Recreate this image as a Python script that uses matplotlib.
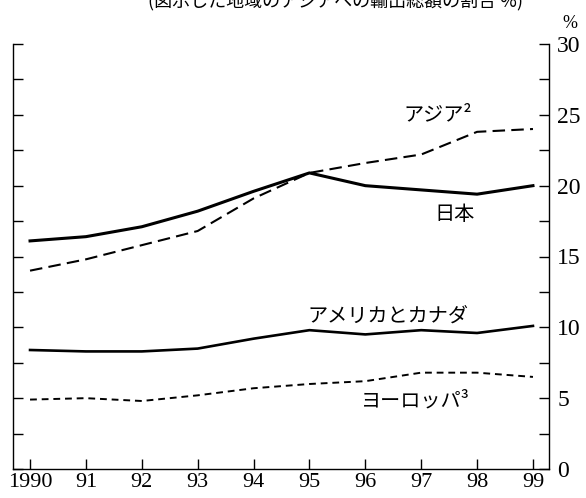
import matplotlib
matplotlib.use("Agg")
import matplotlib.pyplot as plt
from matplotlib.ticker import MultipleLocator

years = [1990, 1991, 1992, 1993, 1994, 1995, 1996, 1997, 1998, 1999]
year_labels = ["1990", "91", "92", "93", "94", "95", "96", "97", "98", "99"]
japan = [16.1, 16.4, 17.1, 18.2, 19.6, 20.9, 20.0, 19.7, 19.4, 20.0]
asia = [14.0, 14.8, 15.8, 16.8, 19.1, 20.9, 21.6, 22.2, 23.8, 24.0]
us_canada = [8.4, 8.3, 8.3, 8.5, 9.2, 9.8, 9.5, 9.8, 9.6, 10.1]
europe = [4.9, 5.0, 4.8, 5.2, 5.7, 6.0, 6.2, 6.8, 6.8, 6.5]

JP = ["Noto Sans CJK JP", "DejaVu Sans"]
NUM = ["Liberation Serif", "DejaVu Serif"]

fig = plt.figure(figsize=(5.86, 4.98), dpi=100)
W, H = 586, 498
left, right, bottom, top = 13, 549, 29, 454
ax = fig.add_axes([left / W, bottom / H, (right - left) / W, (top - bottom) / H])

ax.plot(years, japan, color="black", lw=2.2, solid_joinstyle="round")
ax.plot(years, asia, color="black", lw=1.5, linestyle=(0, (6, 3)))
ax.plot(years, us_canada, color="black", lw=1.9, solid_joinstyle="round")
ax.plot(years, europe, color="black", lw=1.4, linestyle=(0, (3.5, 2.5)))

ax.set_xlim(1989.695, 1999.287)
ax.set_ylim(0, 30)
ax.spines["top"].set_visible(False)
for s in ["left", "right", "bottom"]:
    ax.spines[s].set_linewidth(1.0)

ax.set_xticks(years)
ax.set_xticklabels(year_labels, fontfamily=NUM, fontsize=16)
ax.tick_params(axis="x", direction="in", length=7, width=1.0, pad=3)

ax.yaxis.set_major_locator(MultipleLocator(5))
ax.yaxis.set_minor_locator(MultipleLocator(2.5))
ax.tick_params(axis="y", which="both", direction="in", length=7, width=1.0,
               left=True, right=True, labelleft=False, labelright=True, pad=6)
for lab in ax.get_yticklabels():
    lab.set_fontfamily(NUM)
    lab.set_fontsize(17)

ax.text(1997.3, 25.0, "アジア²", fontfamily=JP, fontsize=14.5, ha="center", va="center")
ax.text(1997.6, 18.0, "日本", fontfamily=JP, fontsize=14.5, ha="center", va="center")
ax.text(1996.4, 10.8, "アメリカとカナダ", fontfamily=JP, fontsize=14.5, ha="center", va="center")
ax.text(1996.9, 4.8, "ヨーロッパ³", fontfamily=JP, fontsize=14.5, ha="center", va="center")

fig.text(570 / W, 1 - 24 / H, "%", fontfamily=NUM, fontsize=13, ha="center", va="center")
fig.text(336 / W, 1 - 7 / H, "(図示した地域のアジアへの輸出総額の割合 %)", fontfamily=JP,
         fontsize=13, ha="center", va="baseline")

fig.savefig("out.png", dpi=100)
